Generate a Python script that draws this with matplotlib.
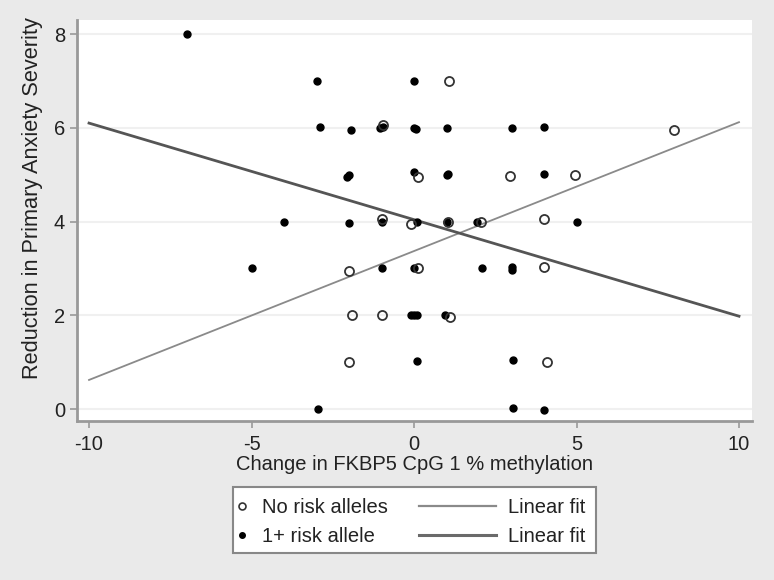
import matplotlib
matplotlib.use("Agg")
import matplotlib.pyplot as plt
from matplotlib.lines import Line2D
from matplotlib.patches import Rectangle

plt.rcParams['font.family'] = ['Liberation Sans', 'DejaVu Sans']
plt.rcParams['axes.unicode_minus'] = False

# no risk alleles (open circles)
no_risk_x = [1.08, 8.0, -0.95, 0.12, 2.95, 4.95, -0.1, -1.0, 1.05, 2.05, 4.0,
             -2.0, 0.12, 4.0, -1.9, -1.0, 1.1, -2.0, 4.1]
no_risk_y = [7.0, 5.96, 6.05, 4.95, 4.98, 5.0, 3.95, 4.05, 4.0, 4.0, 4.05,
             2.95, 3.0, 3.02, 2.0, 2.0, 1.97, 1.0, 1.0]

# 1+ risk allele (filled dots)
risk_x = [-7.0, -3.0, 0.0, -2.9, -1.95, -1.05, -0.95, 0.0, 0.05, 1.0, 3.0, 4.0,
          -2.0, -2.05, 0.0, 1.0, 1.05, 4.0, -4.0, -2.0, -1.0, 0.1, 1.0, 1.95, 5.0,
          -5.0, -1.0, 0.0, 2.1, 3.0, 3.0, -0.1, 0.0, 0.1, 0.95, 0.1, 3.05,
          -2.95, 3.05, 4.0]
risk_y = [8.0, 7.0, 7.0, 6.02, 5.95, 6.0, 6.02, 6.0, 5.98, 6.0, 6.0, 6.02,
          5.0, 4.95, 5.05, 5.0, 5.02, 5.02, 4.0, 3.97, 4.0, 4.0, 4.0, 4.0, 4.0,
          3.0, 3.0, 3.0, 3.0, 3.02, 2.96, 2.0, 2.0, 2.0, 2.0, 1.02, 1.05,
          0.0, 0.03, -0.02]

# linear fits, endpoints
fit_x = [-10, 10]
fit_no_risk = [0.62, 6.12]
fit_risk = [6.1, 1.98]

xticks = [-10, -5, 0, 5, 10]
yticks = [0, 2, 4, 6, 8]

fs = 14.5

fig = plt.figure(figsize=(7.74, 5.8), dpi=100)
fig.patch.set_facecolor('#eaeaea')
ax = fig.add_axes([77/774, 1 - 421/580, 675/774, 401/580])
ax.set_facecolor('white')

ax.plot(fit_x, fit_no_risk, color='#8a8a8a', lw=1.3, zorder=2)
ax.plot(fit_x, fit_risk, color='#555555', lw=2.0, zorder=2)
ax.plot(risk_x, risk_y, 'o', color='black', ms=5, mec='black', zorder=3)
ax.plot(no_risk_x, no_risk_y, 'o', mfc='none', mec='#333333', mew=1.3, ms=6.5, zorder=4)

ax.set_xlim(-10.37, 10.4)
ax.set_ylim(-0.256, 8.3)
ax.set_xticks(xticks)
ax.set_yticks(yticks)
ax.grid(axis='y', color='#f0f0f0', lw=1.5, zorder=0)
ax.set_axisbelow(True)

for s in ['top', 'right']:
    ax.spines[s].set_visible(False)
for s in ['left', 'bottom']:
    ax.spines[s].set_color('#999999')
    ax.spines[s].set_linewidth(2)
ax.tick_params(colors='#999999', length=5, width=1.2, labelsize=fs, labelcolor='#222222')
ax.tick_params(axis='x', pad=5)

ax.set_xlabel('Change in FKBP5 CpG 1 % methylation', fontsize=fs, color='#222222', labelpad=1)
ax.set_ylabel('Reduction in Primary Anxiety Severity', fontsize=15.7, color='#222222')
ax.yaxis.set_label_coords(-0.05, 0.555)

# legend box
fig.patches.append(Rectangle((233/774, 1 - 553/580), 363/774, 66/580,
                             transform=fig.transFigure, facecolor='white',
                             edgecolor='#888888', lw=1.5))

mk_handles = [Line2D([], [], ls='none', marker='o', mfc='none', mec='#333333', mew=1.2, ms=5),
              Line2D([], [], ls='none', marker='o', color='black', ms=4)]
leg1 = fig.legend(mk_handles, ['No risk alleles', '1+ risk allele'],
                  loc='upper left', bbox_to_anchor=(236/774, 1 - 498/580),
                  frameon=False, fontsize=fs, handlelength=0.6, handletextpad=0.7,
                  labelspacing=0.5, borderpad=0, borderaxespad=0)
for t in leg1.get_texts():
    t.set_color('#222222')

ln_handles = [Line2D([], [], color='#8a8a8a', lw=1.6),
              Line2D([], [], color='#6a6a6a', lw=2.2)]
leg2 = fig.legend(ln_handles, ['Linear fit', 'Linear fit'],
                  loc='upper left', bbox_to_anchor=(419/774, 1 - 498/580),
                  frameon=False, fontsize=fs, handlelength=3.8, handletextpad=0.6,
                  labelspacing=0.5, borderpad=0, borderaxespad=0)
for t in leg2.get_texts():
    t.set_color('#222222')

fig.savefig('out.png', dpi=100, facecolor=fig.get_facecolor())
